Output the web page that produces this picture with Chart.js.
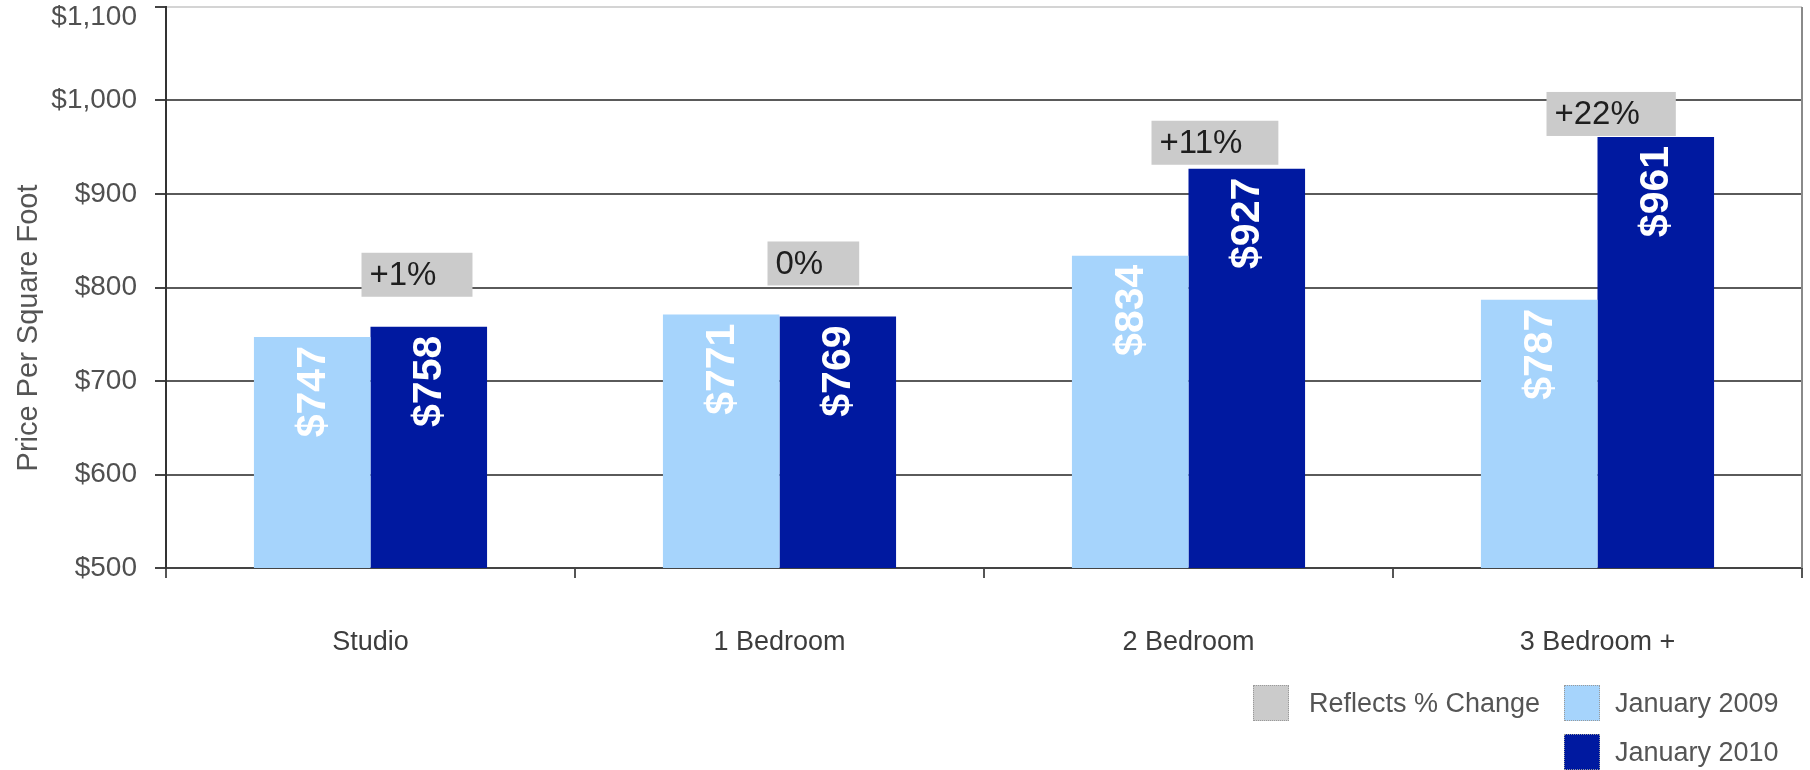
<!DOCTYPE html>
<html>
<head>
<meta charset="utf-8">
<title>Price Per Square Foot</title>
<script src="https://cdn.jsdelivr.net/npm/chart.js@4.4.0/dist/chart.umd.min.js"></script>
<style>
  html, body { margin: 0; padding: 0; background: #fff; }
  #wrap { position: relative; width: 1810px; height: 770px; overflow: hidden; }
  #chart { position: absolute; left: 0; top: 0; }
  .lg { position: absolute; display: flex; align-items: center; height: 36px;
        font: 27px "Liberation Sans", Arial, sans-serif; color: #555; white-space: nowrap; }
  .lg .sw { width: 36px; height: 36px; box-sizing: border-box; border: 1px dotted #9a9a9a; }
</style>
</head>
<body>
<div id="wrap">
  <canvas id="chart" width="1810" height="770"></canvas>
  <div class="lg" id="lgChange" style="left:1253px; top:685px;"><span class="sw"></span><span style="margin-left:20px"></span></div>
  <div class="lg" id="lg2009" style="left:1564px; top:685px;"><span class="sw"></span><span style="margin-left:15px"></span></div>
  <div class="lg" id="lg2010" style="left:1564px; top:734px;"><span class="sw"></span><span style="margin-left:15px"></span></div>
</div>
<script>
// 数据
const categories = ['Studio', '1 Bedroom', '2 Bedroom', '3 Bedroom +'];
const jan2009 = [747, 771, 834, 787];
const jan2010 = [758, 769, 927, 961];
const pctChange = ['+1%', '0%', '+11%', '+22%'];
const yTicks = [500, 600, 700, 800, 900, 1000, 1100];
const seriesNames = ['January 2009', 'January 2010'];
const changeLabel = 'Reflects % Change';
const yTitle = 'Price Per Square Foot';

// 颜色
const LIGHT = '#a6d4fc';
const DARK = '#0019a0';
const BOX = '#cbcbcb';
const FONT = '"Liberation Sans", Arial, sans-serif';

Chart.defaults.font.family = FONT;

// 柱内数值（竖排白字）
const barValuePlugin = {
  id: 'barValues',
  afterDatasetsDraw(chart) {
    const ctx = chart.ctx;
    chart.data.datasets.forEach((ds, di) => {
      chart.getDatasetMeta(di).data.forEach((bar, i) => {
        ctx.save();
        ctx.translate(bar.x, bar.y + 9);
        ctx.rotate(-Math.PI / 2);
        ctx.font = 'bold 41px ' + FONT;
        ctx.fillStyle = '#ffffff';
        ctx.textAlign = 'right';
        ctx.textBaseline = 'middle';
        ctx.fillText('$' + ds.data[i], 0, 1);
        ctx.restore();
      });
    });
  }
};

// 百分比变化灰框
const changeBoxPlugin = {
  id: 'changeBoxes',
  afterDatasetsDraw(chart, args, opts) {
    const ctx = chart.ctx;
    const meta = chart.getDatasetMeta(1);
    ctx.save();
    ctx.font = '33px ' + FONT;
    meta.data.forEach((bar, i) => {
      const tw = ctx.measureText(pctChange[i]).width;
      const w = tw + 44;
      const h = 44;
      const left = bar.x - bar.width / 2 - opts.shift[i];
      const bottom = bar.y - opts.gap[i];
      ctx.fillStyle = BOX;
      ctx.fillRect(left, bottom - h, w, h);
      ctx.fillStyle = '#1e1e1e';
      ctx.textAlign = 'left';
      ctx.textBaseline = 'middle';
      ctx.fillText(pctChange[i], left + 8, bottom - h / 2 + 1);
    });
    ctx.restore();
  }
};

// 右边框、纵轴标题，顶部刻度文字下移
const framePlugin = {
  id: 'frame',
  beforeDraw(chart) {
    const y = chart.scales.y;
    const items = y.getLabelItems(chart.chartArea);
    items.forEach(it => {
      if (it.label === '$1,100') it.options.translation[1] += 10;
    });
  },
  afterDraw(chart) {
    const ctx = chart.ctx;
    const a = chart.chartArea;
    ctx.save();
    ctx.strokeStyle = '#8a8a8a';
    ctx.lineWidth = 2;
    ctx.beginPath();
    ctx.moveTo(a.right, a.top);
    ctx.lineTo(a.right, a.bottom);
    ctx.stroke();

    ctx.translate(29, 328);
    ctx.rotate(-Math.PI / 2);
    ctx.font = '29px ' + FONT;
    ctx.fillStyle = '#555';
    ctx.textAlign = 'center';
    ctx.textBaseline = 'middle';
    ctx.fillText(yTitle, 0, 0);
    ctx.restore();
  }
};

new Chart(document.getElementById('chart'), {
  type: 'bar',
  data: {
    labels: categories,
    datasets: [{
      label: seriesNames[0],
      data: jan2009,
      backgroundColor: LIGHT,
      categoryPercentage: 0.57,
      barPercentage: 1.0
    }, {
      label: seriesNames[1],
      data: jan2010,
      backgroundColor: DARK,
      categoryPercentage: 0.57,
      barPercentage: 1.0
    }]
  },
  options: {
    responsive: false,
    animation: false,
    layout: { padding: { top: 7, right: 8, bottom: 0, left: 0 } },
    plugins: {
      legend: { display: false },
      tooltip: { enabled: false },
      changeBoxes: { shift: [9, 12, 37, 51], gap: [30, 31, 4, 1] }
    },
    scales: {
      x: {
        grid: { offset: true, drawOnChartArea: false, drawTicks: true, tickLength: 10, color: '#555', lineWidth: 2 },
        border: { display: true, color: '#444', width: 2 },
        ticks: { padding: 48, color: '#3c3c3c', font: { size: 27 }, maxRotation: 0 },
        afterFit(scale) { scale.height = 202; scale.paddingLeft = 0; scale.paddingRight = 0; }
      },
      y: {
        min: 500,
        max: 1100,
        afterBuildTicks(axis) { axis.ticks = yTicks.map(v => ({ value: v })); },
        grid: {
          color: c => (c.tick && c.tick.value === 1100) ? '#d4d4d4' : '#5a5a5a',
          lineWidth: 2,
          tickLength: 11,
          tickColor: '#444',
          tickWidth: 2
        },
        border: { color: '#333', width: 2 },
        ticks: {
          padding: 18,
          color: '#505050',
          font: { size: 28 },
          callback: v => '$' + Number(v).toLocaleString('en-US')
        },
        afterFit(scale) { scale.width = 166; scale.paddingTop = 0; scale.paddingBottom = 0; }
      }
    }
  },
  plugins: [barValuePlugin, changeBoxPlugin, framePlugin]
});

// 图例
function fillLegend(id, color, text) {
  const el = document.getElementById(id);
  el.children[0].style.background = color;
  el.children[1].textContent = text;
}
fillLegend('lgChange', BOX, changeLabel);
fillLegend('lg2009', LIGHT, seriesNames[0]);
fillLegend('lg2010', DARK, seriesNames[1]);
</script>
</body>
</html>
